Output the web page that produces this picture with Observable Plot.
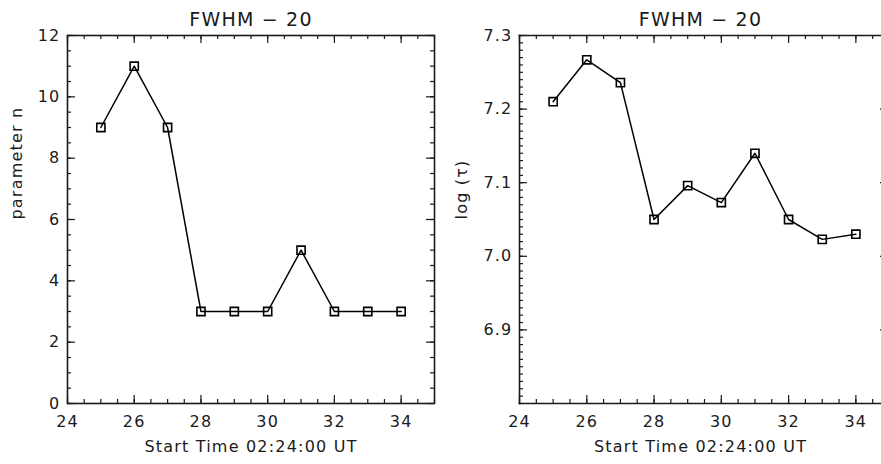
<!DOCTYPE html>
<html><head><meta charset="utf-8">
<script src="https://cdn.jsdelivr.net/npm/d3@7"></script>
<script src="https://cdn.jsdelivr.net/npm/@observablehq/plot@0.6"></script>
<style>
html,body{margin:0;padding:0;background:#fff;overflow:hidden}
#wrap{position:relative;width:881px;height:464px;overflow:hidden;background:#fff}
#wrap svg{position:absolute;top:0;max-width:none !important}
#wrap svg text{font-family:"DejaVu Sans",sans-serif;letter-spacing:1.2px}
</style></head><body><div id="wrap"></div>
<script>
const startTimes = [25, 26, 27, 28, 29, 30, 31, 32, 33, 34];
const paramN = [9, 11, 9, 3, 3, 3, 5, 3, 3, 3];
const logTau = [7.210, 7.267, 7.236, 7.050, 7.096, 7.073, 7.140, 7.050, 7.023, 7.030];
const xTicks = [24, 26, 28, 30, 32, 34];
const yTicksN = [0, 2, 4, 6, 8, 10, 12];
const yTicksTau = [6.9, 7.0, 7.1, 7.2, 7.3];
const titleText = "FWHM \u2212 20";
const xLabel = "Start Time 02:24:00 UT";
const yLabelN = "parameter n";
const yLabelTau = "log (\u03C4)";

const xMinor = d3.range(24, 35.001, 0.5);

// cut: the right frame edge of this panel lies beyond the page edge
function panel({vals, yDomain, yMajor, yMinor, yFormat, ylabel, ylabelDx, width, marginLeft, marginRight, left, xRange, cut}) {
  const data = startTimes.map((t, i) => ({t, v: vals[i]}));
  const ink = "#1a1a1a";
  const mt = 35, mb = 61, height = 464;
  const ih = height - mt - mb;
  const iw = width - marginLeft - marginRight;
  const tick = () => ({stroke: ink, strokeOpacity: 1, strokeWidth: 1.2});
  const fr = {stroke: ink, strokeWidth: 1.6};
  const frameMarks = cut
    ? [Plot.frame({...fr, anchor: "top"}), Plot.frame({...fr, anchor: "bottom"}), Plot.frame({...fr, anchor: "left"})]
    : [Plot.frame(fr)];
  const rightTicks = cut
    ? [Plot.gridY(yMajor, {...tick(), insetLeft: iw - 1})]
    : [Plot.gridY(yMinor, {...tick(), insetLeft: iw - 4}), Plot.gridY(yMajor, {...tick(), insetLeft: iw - 8})];
  const svg = Plot.plot({
    width, height, marginLeft, marginRight, marginTop: mt, marginBottom: mb,
    x: {domain: [24, 35], ...(xRange ? {range: xRange} : {})},
    y: {domain: yDomain},
    style: {fontSize: "16px", color: ink, background: "white"},
    marks: [
      // inward ticks on all four sides
      Plot.gridX(xMinor, {...tick(), insetTop: ih - 4}),
      Plot.gridX(xMinor, {...tick(), insetBottom: ih - 4}),
      Plot.gridX(xTicks, {...tick(), insetTop: ih - 8}),
      Plot.gridX(xTicks, {...tick(), insetBottom: ih - 8}),
      Plot.gridY(yMinor, {...tick(), insetRight: iw - 4}),
      Plot.gridY(yMajor, {...tick(), insetRight: iw - 8}),
      ...rightTicks,
      ...frameMarks,
      Plot.axisX(xTicks, {anchor: "bottom", tickSize: 0, tickPadding: 12, label: null, tickFormat: d => String(d), fill: ink, fontSize: 16}),
      Plot.axisY(yMajor, {anchor: "left", tickSize: 0, tickPadding: 7, label: null, tickFormat: yFormat, fill: ink, fontSize: 16}),
      Plot.line(data, {x: "t", y: "v", stroke: "black", strokeWidth: 1.5}),
      Plot.dot(data, {x: "t", y: "v", symbol: "square", r: 4.6, stroke: "black", strokeWidth: 1.6, fill: "none"}),
      Plot.text([titleText], {text: d => d, frameAnchor: "top", dy: -16, fontSize: 19, fill: ink, lineAnchor: "middle", style: "letter-spacing:2.2px"}),
      Plot.text([xLabel], {text: d => d, frameAnchor: "bottom", dy: 43, fontSize: 16, fill: ink, lineAnchor: "middle"}),
      Plot.text([ylabel], {text: d => d, frameAnchor: "left", dx: ylabelDx, rotate: -90, fontSize: 16, fill: ink, lineAnchor: "middle"})
    ]
  });
  svg.style.left = left + "px";
  svg.style.maxWidth = "none";
  svg.style.width = width + "px";
  return svg;
}

const wrap = document.getElementById("wrap");
wrap.appendChild(panel({
  vals: paramN, yDomain: [0, 12], yMajor: yTicksN, yMinor: d3.range(0, 12.001, 0.5),
  yFormat: d => String(d), ylabel: yLabelN, ylabelDx: -51,
  width: 440, marginLeft: 67, marginRight: 6, left: 0
}));
wrap.appendChild(panel({
  vals: logTau, yDomain: [6.8, 7.3], yMajor: yTicksTau, yMinor: d3.range(680, 730.001, 1).map(d => d / 100),
  yFormat: d3.format(".1f"), ylabel: yLabelTau, ylabelDx: -58,
  width: 441, marginLeft: 79, marginRight: 0, left: 440, xRange: [79, 449], cut: true
}));
</script></body></html>
